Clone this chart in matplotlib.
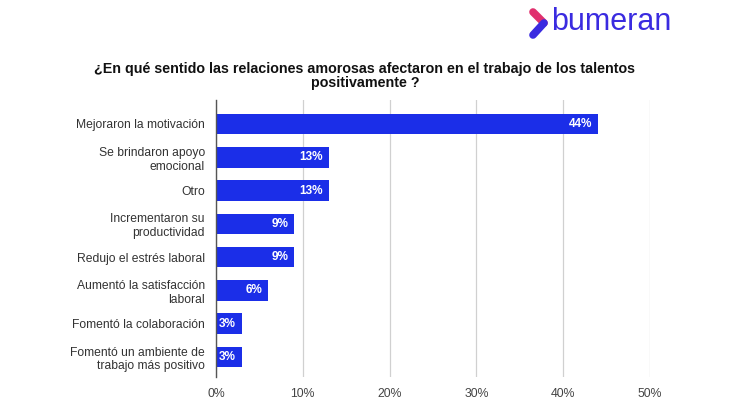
import numpy as np
import matplotlib.pyplot as plt
from matplotlib.lines import Line2D

plt.rcParams['font.family'] = ['Liberation Sans', 'DejaVu Sans']

# Data
categories = [
    "Mejoraron la motivación",
    "Se brindaron apoyo\nemocional",
    "Otro",
    "Incrementaron su\nproductividad",
    "Redujo el estrés laboral",
    "Aumentó la satisfacción\nlaboral",
    "Fomentó la colaboración",
    "Fomentó un ambiente de\ntrabajo más positivo",
]
values = [44, 13, 13, 9, 9, 6, 3, 3]
xticks = [0, 10, 20, 30, 40, 50]

title = "¿En qué sentido las relaciones amorosas afectaron en el trabajo de los talentos\npositivamente ?"
bar_color = "#1B2EE8"

fig = plt.figure(figsize=(7.3, 4.12), dpi=100)
ax = fig.add_axes([216 / 730, 1 - 377 / 412, (650 - 216) / 730, (377 - 100) / 412])

y = np.arange(len(categories))
ax.barh(y, values, height=0.62, color=bar_color, zorder=3)
for yi, v in zip(y, values):
    ax.text(v - 0.7, yi, f"{v}%", ha="right", va="center", color="white",
            fontsize=8.5, fontweight="bold", zorder=4)

ax.set_ylim(len(categories) - 0.4, -0.72)
ax.set_xlim(0, 50)
ax.set_yticks(y)
ax.set_yticklabels(categories, fontsize=8.7, color="#333333", linespacing=1.2)
ax.set_xticks(xticks)
ax.set_xticklabels([f"{t}%" for t in xticks], fontsize=8.8, color="#444444")
ax.tick_params(axis="both", length=0)
ax.tick_params(axis="y", pad=8)
ax.tick_params(axis="x", pad=8)
ax.grid(axis="x", color="#d0d0d0", linewidth=0.9, zorder=0)
for s in ["top", "right", "bottom"]:
    ax.spines[s].set_visible(False)
ax.spines["left"].set_color("#555555")
ax.spines["left"].set_linewidth(1.0)
ax.spines["left"].set_zorder(5)

fig.text(0.5, 1 - 76 / 412, title, ha="center", va="center", fontsize=10.3,
         fontweight="bold", color="#111111", linespacing=1.05)

# logo
fig.text(551 / 730, 1 - 22 / 412, "bumeran", ha="left", va="center",
         fontsize=22, color="#3A2BE0")
fig.add_artist(Line2D([533 / 730, 544 / 730], [1 - 12 / 412, 1 - 23 / 412],
                      transform=fig.transFigure, color="#E0306E", linewidth=5.5,
                      solid_capstyle="round"))
fig.add_artist(Line2D([544 / 730, 533 / 730], [1 - 23 / 412, 1 - 35 / 412],
                      transform=fig.transFigure, color="#3A2BE0", linewidth=5.5,
                      solid_capstyle="round"))

fig.savefig("out.png", dpi=100)
